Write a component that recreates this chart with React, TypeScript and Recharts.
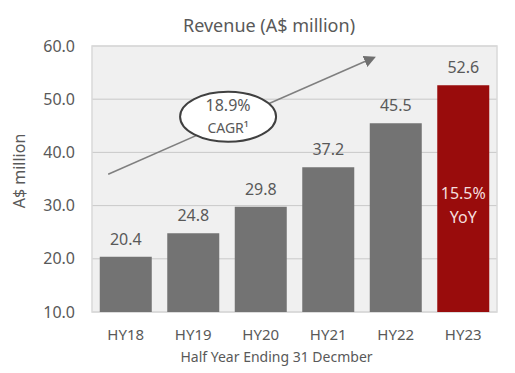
import React from "react";
import {
  BarChart,
  Bar,
  XAxis,
  YAxis,
  CartesianGrid,
  Cell,
  LabelList,
  ReferenceLine,
  ReferenceDot,
  ReferenceArea,
} from "recharts";

// Half-year revenue, A$ million
const periods = ["HY18", "HY19", "HY20", "HY21", "HY22", "HY23"];
const revenue = [20.4, 24.8, 29.8, 37.2, 45.5, 52.6];
const yTicks = [10, 20, 30, 40, 50, 60];

// Annotation: CAGR arrow on a hidden 0..5 helper axis spanning the plot width
const arrowStart = { x: 0.2, y: 35.9 };
const arrowEnd = { x: 3.46, y: 57.7 };
const cagrBubble = { x: 1.68, y: 46.7, pct: "18.9%", sub: "CAGR¹" };
const yoyNote = ["15.5%", "YoY"];

const GREY = "#737373";
const RED = "#990C0C";
const TEXT = "#595959";
const FONT = "'Noto Sans', sans-serif";

const data = periods.map((p, i) => ({ period: p, value: revenue[i] }));

const ArrowShape = (props: any) => {
  const { x1, y1, x2, y2 } = props;
  return (
    <g>
      <defs>
        <marker id="cagrHead" markerWidth="12" markerHeight="12" refX="8" refY="6" orient="auto" markerUnits="userSpaceOnUse">
          <path d="M0,0 L12,6 L0,12 z" fill="#6f6f6f" />
        </marker>
      </defs>
      <line x1={x1} y1={y1} x2={x2} y2={y2} stroke="#7f7f7f" strokeWidth={1.5} markerEnd="url(#cagrHead)" />
    </g>
  );
};

const BubbleShape = (props: any) => {
  const { cx, cy } = props;
  return (
    <g>
      <ellipse cx={cx} cy={cy} rx={48} ry={25} fill="#ffffff" stroke="#404040" strokeWidth={2} />
      <text x={cx} y={cy - 10} textAnchor="middle" dominantBaseline="middle" fontSize={16} fill={TEXT} fontFamily={FONT}>
        {cagrBubble.pct}
      </text>
      <text x={cx} y={cy + 12} textAnchor="middle" dominantBaseline="middle" fontSize={14} fill={TEXT} fontFamily={FONT}>
        {cagrBubble.sub}
      </text>
    </g>
  );
};

const YoyLabel = (props: any) => {
  const { x, y, width, height, index } = props;
  if (index !== periods.length - 1) return null;
  const cx = x + width / 2;
  const mid = y + height / 2;
  return (
    <g fontFamily={FONT} fontSize={16} fill="#F4DEDE" textAnchor="middle">
      <text x={cx} y={mid - 4} dominantBaseline="middle">{yoyNote[0]}</text>
      <text x={cx} y={mid + 20} dominantBaseline="middle">{yoyNote[1]}</text>
    </g>
  );
};

export default function App() {
  return (
    <div style={{ position: "relative", width: 515, height: 373, background: "#fff", fontFamily: FONT }}>
      <style>{"body{margin:0}"}</style>
      <div
        style={{
          position: "absolute",
          top: 11,
          left: 0,
          width: 538,
          textAlign: "center",
          fontSize: 18,
          color: TEXT,
          lineHeight: "28px",
        }}
      >
        Revenue (A$ million)
      </div>
      <BarChart
        width={515}
        height={373}
        data={data}
        margin={{ top: 46, right: 18, bottom: 11, left: 0 }}
        barCategoryGap="11.5%"
      >
        <CartesianGrid vertical={false} stroke="#c9c9c9" fill="#f0f0f0" />
        <XAxis
          dataKey="period"
          height={50}
          axisLine={false}
          tickLine={false}
          tickSize={0}
          tickMargin={17}
          tick={{ fontSize: 15, fill: TEXT, fontFamily: FONT }}
          label={{
            content: ({ viewBox }: any) => (
              <text x={viewBox.x + viewBox.width / 2 - 18} y={362} textAnchor="middle" fontSize={14} fill={TEXT} fontFamily={FONT}>
                Half Year Ending 31 Decmber
              </text>
            ),
          }}
        />
        <XAxis xAxisId="n" type="number" domain={[0, 5]} allowDataOverflow hide />
        <YAxis
          width={92}
          domain={[10, 60]}
          ticks={yTicks}
          allowDataOverflow
          axisLine={false}
          tickLine={false}
          tickSize={0}
          tickMargin={17}
          tickFormatter={(v: number) => v.toFixed(1)}
          tick={{ fontSize: 16, fill: TEXT, fontFamily: FONT }}
          label={{
            content: ({ viewBox }: any) => {
              const cy = viewBox.y + viewBox.height / 2 - 8;
              return (
                <text x={21} y={cy} transform={`rotate(-90 21 ${cy})`} textAnchor="middle" dominantBaseline="middle" fontSize={16} fill={TEXT} fontFamily={FONT}>
                  A$ million
                </text>
              );
            },
          }}
        />
        <ReferenceArea xAxisId="n" x1={0} x2={5} y1={10} y2={60} fill="none" stroke="#d9d9d9" strokeWidth={1.5} ifOverflow="visible" />
        <Bar dataKey="value" isAnimationActive={false}>
          {data.map((d, i) => (
            <Cell key={d.period} fill={i === data.length - 1 ? RED : GREY} />
          ))}
          <LabelList dataKey="value" position="top" offset={12} fill={TEXT} fontSize={16} fontFamily={FONT} formatter={(v: any) => Number(v).toFixed(1)} />
          <LabelList dataKey="value" content={YoyLabel} />
        </Bar>
        <ReferenceLine
          xAxisId="n"
          segment={[arrowStart, arrowEnd]}
          ifOverflow="visible"
          shape={ArrowShape}
        />
        <ReferenceDot xAxisId="n" x={cagrBubble.x} y={cagrBubble.y} ifOverflow="visible" shape={BubbleShape} />
      </BarChart>
    </div>
  );
}
